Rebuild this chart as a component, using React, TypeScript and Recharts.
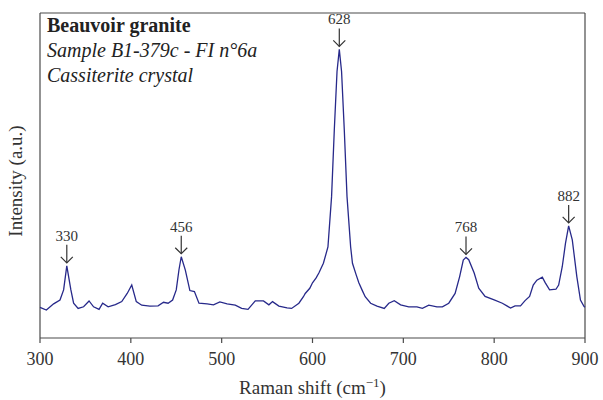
import { LineChart, Line, XAxis, YAxis, ReferenceDot, ReferenceLine, Label } from 'recharts';

// Raman shift (cm-1) and intensity (a.u.)
const shift = [
  300, 307, 315, 322, 326, 329.5, 334, 337, 342, 348, 354, 359, 365, 369, 375, 383, 390, 396, 401, 406,
  412, 421, 430, 436, 441, 446, 450, 453, 455.5, 460, 465, 470, 475, 484, 491, 498, 506, 515, 522, 529,
  537, 546, 552, 556, 563, 572, 577, 585, 590, 592, 597, 600, 604, 607, 612, 617, 621, 624, 627, 629.5,
  632, 635, 638, 642, 644, 648, 651, 655, 658, 664, 671, 679, 684, 690, 697, 706, 715, 721, 728, 737,
  743, 750, 757, 762, 766, 769, 772, 778, 783, 790, 800, 809, 814, 818, 823, 829, 834, 839, 843, 847,
  853, 856, 861, 868, 871, 875, 878.5, 882, 886, 891, 895, 899, 900,
];
const intensity = [
  9.4, 8.6, 10.5, 11.7, 14.8, 22.2, 14.8, 10.7, 9.1, 9.6, 11.4, 9.6, 8.8, 10.7, 9.6, 10.3, 11.2, 13.7, 16.3, 11.2,
  10.1, 9.8, 9.9, 11, 10.7, 11.7, 14.8, 21, 25, 20.9, 14.6, 14.3, 10.7, 10.5, 10.2, 11.1, 10.5, 10.1, 9.1, 8.8,
  11.4, 11.4, 10.2, 11.2, 9.8, 9.3, 9.1, 10.7, 12.7, 13.7, 15.3, 17, 18.5, 20, 23, 28, 43.5, 64, 82, 88.8,
  82, 64, 43.5, 28, 23, 19.5, 17, 14.5, 12.7, 10.7, 9.8, 9.1, 10.7, 11.5, 10.2, 9.6, 9.6, 9.1, 10.1, 9.6,
  9.6, 10.7, 13.7, 18.9, 24, 24.8, 24.1, 20, 15.3, 12.8, 11.7, 10.7, 9.9, 9.2, 9.9, 9.9, 11.5, 12.8, 16.3, 17.8,
  18.7, 17.1, 14.8, 15, 16.3, 22, 29.1, 34.5, 30.2, 18.9, 11.7, 9.7, 9.5,
];
const xTicks = [300, 400, 500, 600, 700, 800, 900];

const peakShift = [329.5, 455.5, 629.5, 769, 882];
const peakIntensity = [22.2, 25, 88.8, 24.8, 34.5];
const peakLabels = ['330', '456', '628', '768', '882'];

const data = shift.map((s, i) => ({ shift: s, intensity: intensity[i] }));

const serif = '"Liberation Serif", "DejaVu Serif", serif';
const frame = '#4a4a4a';

function PeakArrow(props: any) {
  const { cx, cy, label } = props;
  return (
    <g>
      <line x1={cx} y1={cy - 21} x2={cx} y2={cy - 3} stroke="#333" strokeWidth={1.2} />
      <polyline points={`${cx - 6},${cy - 9} ${cx},${cy - 3} ${cx + 6},${cy - 9}`} fill="none" stroke="#333" strokeWidth={1.2} />
      <text x={cx} y={cy - 25} textAnchor="middle" fontFamily={serif} fontSize={15} fill="#333">{label}</text>
    </g>
  );
}

export default function App() {
  return (
    <div style={{ position: 'absolute', left: 0, top: 0, width: 603, height: 400 }}>
      <LineChart width={603} height={400} data={data} margin={{ top: 13, right: 18, bottom: 0, left: 40 }}>
        <XAxis
          dataKey="shift"
          type="number"
          domain={[300, 900]}
          ticks={xTicks}
          height={62}
          stroke={frame}
          strokeWidth={1.2}
          tickSize={5}
          tickMargin={9}
          tick={{ fill: '#333', fontFamily: serif, fontSize: 18 }}
        >
          <Label
            content={({ viewBox }: any) => (
              <text x={viewBox.x + viewBox.width / 2} y={394} textAnchor="middle" fontFamily={serif} fontSize={19} fill="#333">
                Raman shift (cm<tspan dy={-7} fontSize={13}>−1</tspan><tspan dy={7}>)</tspan>
              </text>
            )}
          />
        </XAxis>
        <YAxis domain={[0, 100]} hide />
        <ReferenceLine x={300} stroke={frame} strokeWidth={1.2} />
        <ReferenceLine x={900} stroke={frame} strokeWidth={1.2} />
        <ReferenceLine y={100} stroke={frame} strokeWidth={1.2} />
        <Line type="linear" dataKey="intensity" stroke="#27298a" strokeWidth={1.3} dot={false} isAnimationActive={false} />
        {peakShift.map((p, i) => (
          <ReferenceDot key={p} x={p} y={peakIntensity[i]} shape={(props: any) => <PeakArrow {...props} label={peakLabels[i]} />} />
        ))}
      </LineChart>
      <div style={{ position: 'absolute', left: 47, top: 13, fontFamily: serif, fontSize: 20, lineHeight: '25px', color: '#222' }}>
        <div style={{ fontWeight: 'bold' }}>Beauvoir granite</div>
        <div style={{ fontStyle: 'italic' }}>Sample B1-379c - FI n°6a</div>
        <div style={{ fontStyle: 'italic' }}>Cassiterite crystal</div>
      </div>
      <div
        style={{
          position: 'absolute', left: -84, top: 171, width: 200, height: 20, lineHeight: '20px',
          textAlign: 'center', transform: 'rotate(-90deg)', fontFamily: serif, fontSize: 19, color: '#333',
        }}
      >
        Intensity (a.u.)
      </div>
    </div>
  );
}
